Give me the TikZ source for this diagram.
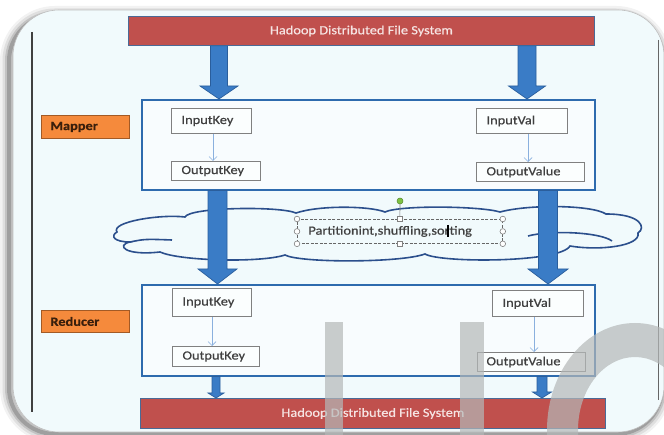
\documentclass[tikz,border=0pt]{standalone}
\usepackage{fontspec}
\setmainfont{Carlito}[FakeStretch=1.15, FakeBold=0.6]
\usetikzlibrary{calc,arrows.meta}
\definecolor{bgc}{HTML}{F1FAFC}
\definecolor{hdfsred}{HTML}{C0504D}
\definecolor{hdfsedge}{HTML}{4A6A96}
\definecolor{hdfstext}{HTML}{F6E4E3}
\definecolor{afill}{HTML}{3A7CC6}
\definecolor{aedge}{HTML}{2A5E9C}
\definecolor{contedge}{HTML}{2E6BAE}
\definecolor{boxedge}{HTML}{808080}
\definecolor{boxtext}{HTML}{404040}
\definecolor{orangef}{HTML}{F58A3C}
\definecolor{orangee}{HTML}{A35A25}
\definecolor{lbl}{HTML}{3A1F0C}
\definecolor{cloudc}{HTML}{2B4F8C}
\definecolor{thinarr}{HTML}{8AB0DE}
\definecolor{wm}{HTML}{B4B8B8}
\definecolor{handle}{HTML}{7DC242}
\tikzset{
  every node/.style={font=\fontsize{12.5}{14}\selectfont},
  hdfs/.style={draw=hdfsedge, fill=hdfsred, line width=0.9pt, text=hdfstext, anchor=north west, inner sep=0pt},
  cont/.style={draw=contedge, line width=1.6pt, fill=bgc!50!white, anchor=north west, inner sep=0pt},
  sbox/.style={draw=boxedge, line width=1pt, fill=bgc!30!white, text=boxtext, anchor=north west, inner xsep=10pt, inner ysep=0pt, align=left},
  role/.style={draw=orangee, fill=orangef, line width=0.9pt, text=lbl, anchor=north west, inner xsep=9pt, inner ysep=0pt, align=left, font=\fontsize{12.5}{14}\selectfont\bfseries},
  barrow/.style={draw=aedge, fill=afill, line width=0.7pt, line join=miter},
  thinarrow/.style={draw=thinarr, line width=0.7pt, -{Straight Barb[length=4pt,width=8pt]}},
  cloudline/.style={draw=cloudc, line width=1.6pt},
  hnd/.style={draw=gray, fill=white, line width=0.6pt},
}
\newcommand\barr[5]{\draw[barrow] ($(#1)+(-#3,0)$) -- ($(#1)+(#3,0)$) -- ($(#2)+(#3,-#5)$) -- ($(#2)+(#4,-#5)$) -- (#2) -- ($(#2)+(-#4,-#5)$) -- ($(#2)+(-#3,-#5)$) -- cycle;}
\begin{document}
\begin{tikzpicture}[x=1pt,y=-1pt]
\useasboundingbox (0,0) rectangle (664,435);
\clip (0,0) rectangle (664,435);
\fill[white] (0,0) rectangle (664,435);
% frame shadow
\foreach \w/\o in {18/0.05,13/0.08,8/0.12,4/0.18}
  \draw[line width=\w pt, black, opacity=\o, rounded corners=46pt] (9,15) rectangle (662,434);
\draw[fill=bgc, draw=black!25, line width=0.6pt, rounded corners=46pt] (13,10) rectangle (664,432);
% inner slide edges
\draw[black!75, line width=1.1pt] (32,32) -- (32,412);
\draw[black!60, line width=1pt] (658,40) -- (658,400);

% HDFS bars
\node[hdfs, minimum width=466pt, minimum height=29pt] (hdfsT) at (128,16) {Hadoop Distributed File System};
\node[hdfs, minimum width=465pt, minimum height=30pt] (hdfsB) at (140,398) {Hadoop Distributed File System};

% containers
\node[cont, minimum width=453pt, minimum height=90pt] (mapc) at (141,99) {};
\node[cont, minimum width=453pt, minimum height=91pt] (redc) at (141,284) {};

% roles
\node[role, text width=70pt, minimum height=23pt] (mapper) at (41,115) {Mapper};
\node[role, text width=70pt, minimum height=22pt] (reducer) at (41,310) {Reducer};

% mapper boxes
\node[sbox, text width=60pt, minimum height=25pt] (mik) at (171,108) {InputKey};
\node[sbox, text width=69pt, minimum height=19pt] (mok) at (171,161) {OutputKey};
\node[sbox, text width=71pt, minimum height=25pt] (miv) at (476,108) {InputVal};
\node[sbox, text width=88pt, minimum height=19pt] (mov) at (476,162) {OutputValue};
% reducer boxes
\node[sbox, text width=59pt, minimum height=28pt] (rik) at (172,288) {InputKey};
\node[sbox, text width=67pt, minimum height=20pt] (rok) at (172,346) {OutputKey};
\node[sbox, text width=71pt, minimum height=26pt] (riv) at (492,290) {InputVal};
\node[sbox, inner xsep=9pt, text width=90pt, minimum height=19pt] (rov) at (477,352) {OutputValue};

\draw[thinarrow] ($(mik.south west)+(42,0)$) -- ($(mok.north west)+(42,0)$);
\draw[thinarrow] ($(miv.south west)+(52,0)$) -- ($(mov.north west)+(52,0)$);
\draw[thinarrow] ($(rik.south west)+(40,0)$) -- ($(rok.north west)+(40,0)$);
\draw[thinarrow] ($(riv.south west)+(42,0)$) -- ($(rov.north west)+(57,0)$);

% cloud
\draw[cloudline, fill=bgc] (117,232)
  .. controls (110,222) and (160,214) .. (185,217)
  .. controls (190,207) and (280,206) .. (296,213)
  .. controls (320,205) and (370,206) .. (385,212)
  .. controls (400,205) and (480,206) .. (500,212)
  .. controls (530,204) and (592,205) .. (606,214)
  .. controls (642,214) and (646,228) .. (638,233)
  .. controls (641,246) and (600,251) .. (570,246)
  .. controls (560,263) and (440,263) .. (425,254)
  .. controls (400,263) and (300,263) .. (285,255)
  .. controls (260,263) and (180,261) .. (160,252)
  .. controls (124,256) and (116,245) .. (130,242)
  .. controls (114,242) and (110,236) .. (117,232) -- cycle;
\draw[cloudline] (130,242) .. controls (145,239) .. (172,240);
\draw[cloudline] (528,236) .. controls (550,230) and (600,232) .. (612,241);

% text box with handles
\node[draw=black!60, dashed, dash pattern=on 3pt off 1.5pt, line width=0.8pt, anchor=north west, minimum width=205pt, minimum height=24pt, inner xsep=11pt, inner ysep=0pt, text width=183pt, align=left, text=boxtext] (tb) at (297,219) {Partitionint,shuffling,sorting};
\node[circle, fill=handle, draw=handle!70!black, line width=0.5pt, minimum size=6pt, inner sep=0pt] (rot) at (400,201) {};
\draw[gray, line width=0.6pt] (rot) -- (tb.north);
\foreach \a in {north west,north east,south west,south east,west,east}
  \draw[hnd] (tb.\a) circle (2.8pt);
\node[hnd, minimum size=5pt, inner sep=0pt] at (tb.north) {};
\node[hnd, minimum size=5pt, inner sep=0pt] at (tb.south) {};
\draw[black, line width=1.1pt] (448,225) -- (448,237);

% block arrows
\coordinate (a1s) at ($(hdfsT.south west)+(91,0)$);
\coordinate (a1t) at ($(mapc.north west)+(78,0)$);
\coordinate (a2s) at ($(hdfsT.south west)+(399,0)$);
\coordinate (a2t) at ($(mapc.north west)+(386,0)$);
\coordinate (a3s) at ($(mapc.south west)+(76.5,0)$);
\coordinate (a3t) at ($(redc.north west)+(76.5,0)$);
\coordinate (a4s) at ($(mapc.south west)+(407,0)$);
\coordinate (a4t) at ($(redc.north west)+(407,0)$);
\coordinate (a5s) at ($(redc.south west)+(75,0)$);
\coordinate (a5t) at ($(hdfsB.north west)+(76,0)$);
\coordinate (a6s) at ($(redc.south west)+(401,0)$);
\coordinate (a6t) at ($(hdfsB.north west)+(402,0)$);
\barr{a1s}{a1t}{8.5}{19}{13}
\barr{a2s}{a2t}{9}{18.5}{13}
\barr{a3s}{a3t}{9.5}{19.5}{15}
\barr{a4s}{a4t}{9.5}{20}{15}
\barr{a5s}{a5t}{4}{8}{5}
\barr{a6s}{a6t}{5}{9.5}{6}

% watermark
\fill[wm, opacity=0.7] (325,322) rectangle (343,435);
\fill[wm, opacity=0.7] (460,322) rectangle (484,435);
\fill[wm, opacity=0.7, even odd rule] (635,430) ellipse [x radius=88, y radius=107] (635,430) ellipse [x radius=57, y radius=73];
\end{tikzpicture}
\end{document}
